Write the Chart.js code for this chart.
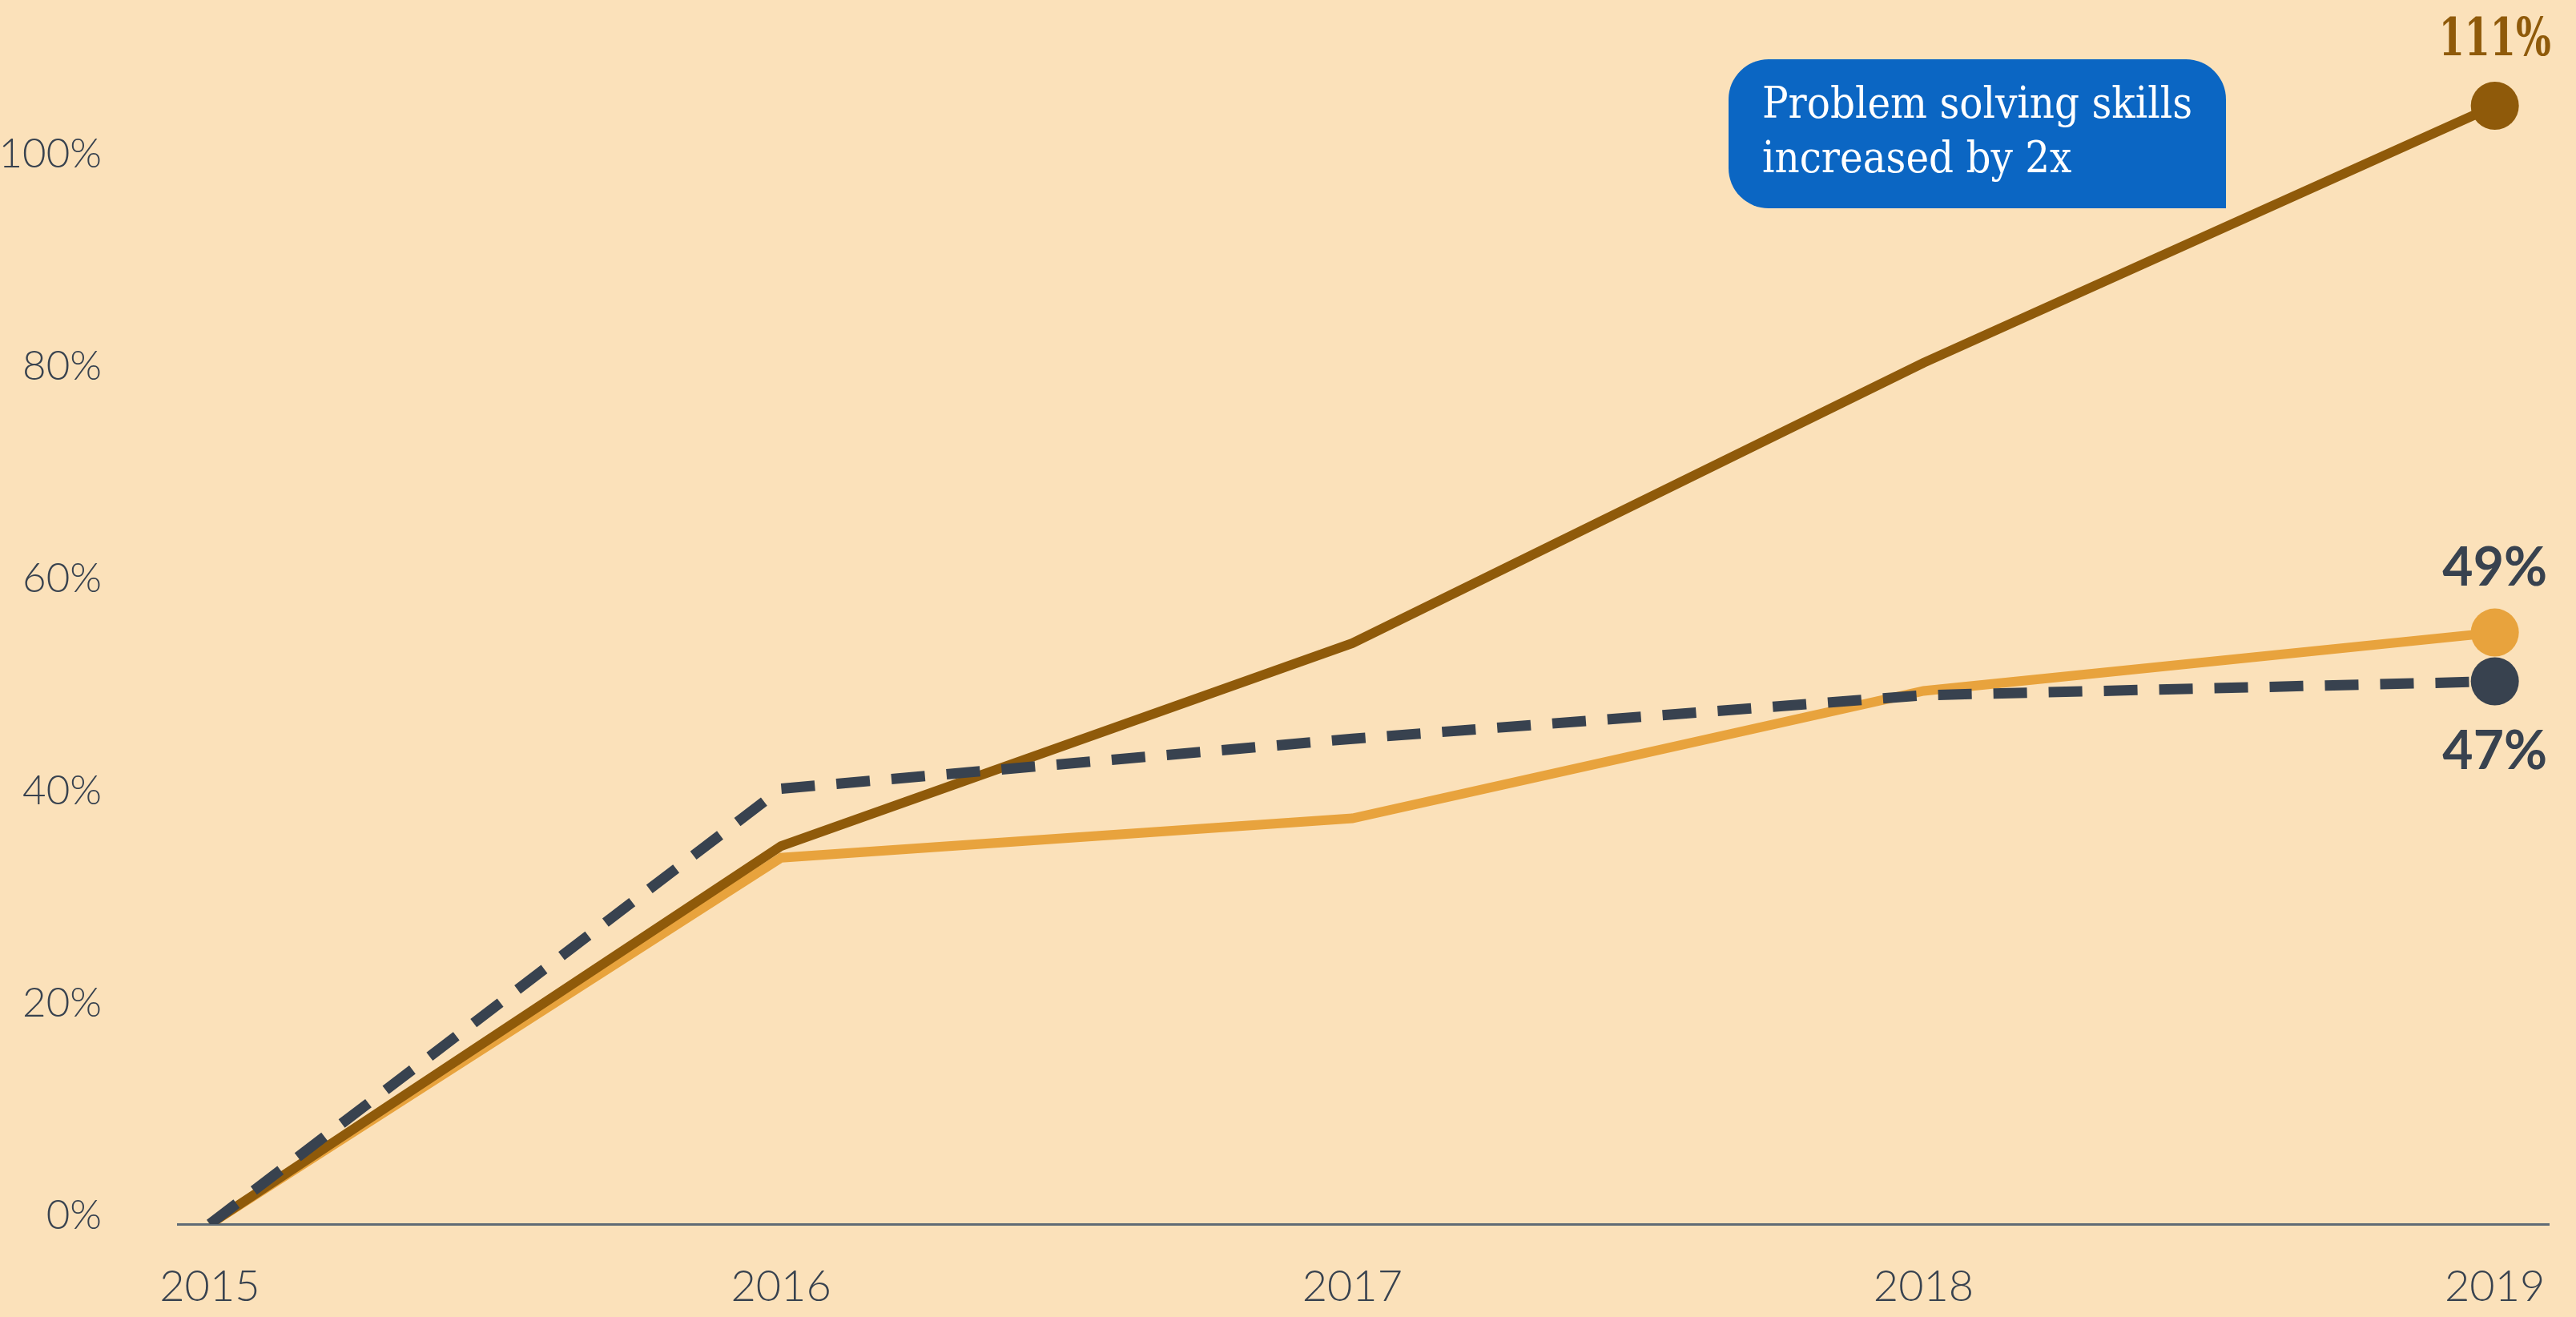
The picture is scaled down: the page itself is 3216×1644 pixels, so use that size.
<!DOCTYPE html>
<html>
<head>
<meta charset="utf-8">
<script src="https://cdn.jsdelivr.net/npm/chart.js@4.4.1/dist/chart.umd.min.js"></script>
<style>
  html, body { margin: 0; padding: 0; background: #fbe1ba; }
  canvas { display: block; }
</style>
</head>
<body>
<canvas id="chart" width="3216" height="1644"></canvas>
<script>
// valores (em %)
const years = [2015, 2016, 2017, 2018, 2019];
const problemSolving = [0, 35.6, 54.7, 81.1, 105.3];
const orangeSeries = [0, 34.5, 38.2, 50.2, 55.7];
const dashedSeries = [0, 41.0, 45.7, 49.8, 51.1];
const endLabels = ['111%', '49%', '47%'];
const calloutLines = ['Problem solving skills', 'increased by 2x'];

const brown = '#8f5a0a';
const orange = '#e8a33d';
const slate = '#38424f';

// estilos dos rótulos finais (um por série)
const endStyles = [
  { font: 'bold 66px "DejaVu Serif Condensed", "DejaVu Serif", serif', color: brown, dy: -80, maxW: 140 },
  { font: 'bold 66px Lato, "Open Sans", sans-serif', color: slate, dy: -80, maxW: 200 },
  { font: 'bold 66px Lato, "Open Sans", sans-serif', color: slate, dy: 88, maxW: 200 }
];

function toPoints(values) {
  return years.map((y, i) => ({ x: y, y: values[i] }));
}

const endLabelPlugin = {
  id: 'endLabels',
  afterDatasetsDraw(chart) {
    const ctx = chart.ctx;
    ctx.save();
    ctx.textAlign = 'center';
    ctx.textBaseline = 'middle';
    chart.data.datasets.forEach((ds, i) => {
      const meta = chart.getDatasetMeta(i);
      const pt = meta.data[meta.data.length - 1];
      const st = endStyles[i];
      ctx.font = st.font;
      ctx.fillStyle = st.color;
      ctx.fillText(endLabels[i], pt.x, pt.y + st.dy, st.maxW);
    });

    // caixa azul de destaque
    const bx = 2158, by = 74, bw = 621, bh = 186;
    ctx.fillStyle = '#0b66c3';
    ctx.beginPath();
    ctx.roundRect(bx, by, bw, bh, [50, 50, 0, 50]);
    ctx.fill();

    ctx.fillStyle = '#ffffff';
    ctx.font = '54px "DejaVu Serif Condensed", "DejaVu Serif", serif';
    ctx.textAlign = 'left';
    const k = Math.min(1, 537 / ctx.measureText(calloutLines[0]).width);
    ctx.translate(2200, 0);
    ctx.scale(k, 1);
    ctx.fillText(calloutLines[0], 0, 133);
    ctx.fillText(calloutLines[1], 0, 201);
    ctx.restore();
  }
};

const tickFont = { family: 'Lato, "Open Sans", sans-serif', size: 51, weight: 300 };

new Chart(document.getElementById('chart').getContext('2d'), {
  type: 'line',
  data: {
    datasets: [
      {
        label: 'Problem solving',
        data: toPoints(problemSolving),
        borderColor: brown,
        backgroundColor: brown,
        borderWidth: 12,
        pointRadius: [0, 0, 0, 0, 30],
        pointBorderWidth: 0,
        order: 2
      },
      {
        label: 'Série laranja',
        data: toPoints(orangeSeries),
        borderColor: orange,
        backgroundColor: orange,
        borderWidth: 12,
        pointRadius: [0, 0, 0, 0, 30],
        pointBorderWidth: 0,
        order: 3
      },
      {
        label: 'Série tracejada',
        data: toPoints(dashedSeries),
        borderColor: slate,
        backgroundColor: slate,
        borderWidth: 13,
        borderDash: [42, 27],
        pointRadius: [0, 0, 0, 0, 30],
        pointBorderWidth: 0,
        order: 1
      }
    ]
  },
  options: {
    responsive: false,
    animation: false,
    layout: { padding: 0 },
    scales: {
      x: {
        type: 'linear',
        min: 2014.944,
        max: 2019.095,
        grid: { display: false },
        border: { display: true, color: '#5f6b75', width: 3 },
        ticks: {
          stepSize: 1,
          includeBounds: false,
          padding: 38,
          color: slate,
          font: { family: 'Lato, "Open Sans", sans-serif', size: 54, weight: 300 },
          callback: v => String(v)
        },
        afterFit: scale => { scale.height = 116; }
      },
      y: {
        min: 0,
        max: 113,
        grid: { display: false },
        border: { display: false },
        ticks: {
          stepSize: 20,
          includeBounds: false,
          padding: 87,
          labelOffset: -10,
          color: slate,
          font: tickFont,
          callback: v => v + '%'
        },
        afterFit: scale => {
          scale.width = 222;
          scale.paddingTop = 0;
          scale.paddingBottom = 0;
        }
      }
    },
    plugins: {
      legend: { display: false },
      tooltip: { enabled: false }
    }
  },
  plugins: [endLabelPlugin]
});
</script>
</body>
</html>
